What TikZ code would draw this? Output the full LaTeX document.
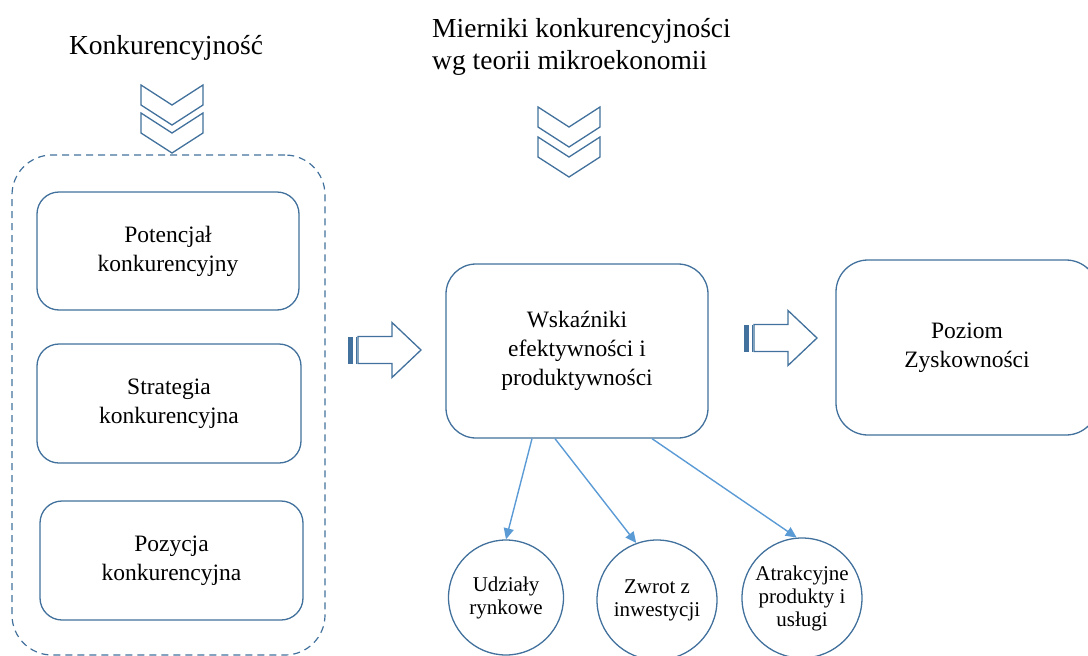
\documentclass[tikz,border=0pt]{standalone}
\usepackage{fontspec}
\setmainfont{Liberation Serif}
\usetikzlibrary{arrows.meta,calc}
\definecolor{edge}{HTML}{41719C}
\definecolor{link}{HTML}{5B9BD5}
\begin{document}
\begin{tikzpicture}[x=1pt,y=-1pt,
  box/.style={draw=edge,line width=1.3pt,rounded corners=22pt,fill=white,
    align=center,inner sep=0pt,font=\fontsize{23.5}{29}\selectfont},
  ring/.style={circle,draw=edge,line width=1.3pt,fill=white,align=center,
    inner sep=0pt,font=\fontsize{21}{23}\selectfont},
  head/.style={align=left,inner sep=0pt,font=\fontsize{27.5}{32}\selectfont},
  group/.style={draw=edge,line width=1.2pt,rounded corners=40pt,
    dash pattern=on 7pt off 5pt},
  linkarrow/.style={draw=link,line width=1.4pt,-{Triangle[length=11pt,width=10pt]}},
  chevron/.pic={
    \draw[edge,line width=1.3pt,fill=white,line join=miter]
      (0,0) -- (31,20) -- (62,0) -- (62,20) -- (31,40) -- (0,20) -- cycle;
  },
  stripearrow/.pic={
    \fill[edge] (0,-13.5) rectangle (5,13.5);
    \draw[edge,line width=1.6pt] (8.5,-13.5) -- (8.5,13.5);
    \draw[edge,line width=1.3pt,fill=white,line join=miter]
      (10,-13.5) -- (44,-13.5) -- (44,-27.5) -- (73,0) -- (44,27.5)
      -- (44,13.5) -- (10,13.5) -- cycle;
  }]
\useasboundingbox (0,0) rectangle (1088,656);

% headings
\node[head] (konk) at (166,48) {Konkurencyjność};
\node[head,anchor=west] (mier) at (432,47)
  {Mierniki konkurencyjności\\wg teorii mikroekonomii};

% dashed group around the three factors
\node[group,minimum width=313pt,minimum height=500pt] (grp) at (168.5,405) {};

% double chevrons under the headings
\pic at (141,85) {chevron};
\pic at (141,113) {chevron};
\pic at (538,107) {chevron};
\pic at (538,137) {chevron};

% factors of competitiveness
\node[box,minimum width=262pt,minimum height=118pt] (pot) at (168,251)
  {Potencjał\\konkurencyjny};
\node[box,minimum width=264pt,minimum height=119pt] (str) at (169,403.5)
  {Strategia\\konkurencyjna};
\node[box,minimum width=263pt,minimum height=119pt] (poz) at (171.5,560.5)
  {Pozycja\\konkurencyjna};

% indicators and profitability
\node[box,rounded corners=30pt,minimum width=262pt,minimum height=174pt] (wsk)
  at (577,351) {Wskaźniki\\efektywności i\\produktywności};
\node[box,rounded corners=32pt,minimum width=262pt,minimum height=175pt] (zysk)
  at (967,347.5) {Poziom\\Zyskowności};

% striped block arrows
\pic at (348,350) {stripearrow};
\pic at (744,338) {stripearrow};

% measures
\node[ring,minimum size=115pt] (udz) at (506,597.5) {Udziały\\rynkowe};
\node[ring,minimum size=120pt] (inw) at (657,600) {Zwrot z\\inwestycji};
\node[ring,minimum size=120pt] (atr) at (802,598) {Atrakcyjne\\produkty i\\usługi};

\draw[linkarrow] ($(wsk.south)+(-45,0)$) -- (udz.north);
\draw[linkarrow] ($(wsk.south)+(-22,0)$) -- (inw.110);
\draw[linkarrow] ($(wsk.south)+(75,0)$) -- (atr.95);
\end{tikzpicture}
\end{document}
